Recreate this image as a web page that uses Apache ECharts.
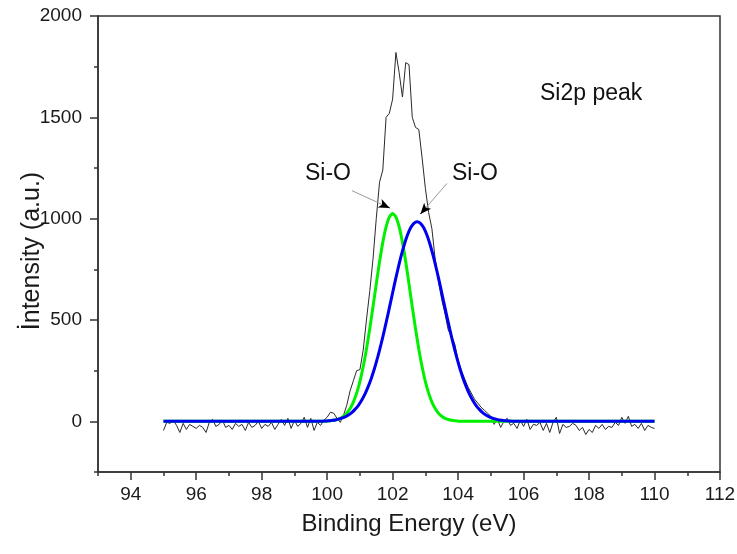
<!DOCTYPE html>
<html>
<head>
<meta charset="utf-8">
<script src="https://cdn.jsdelivr.net/npm/echarts@6.0.0/dist/echarts.min.js"></script>
<style>
  html, body { margin: 0; padding: 0; background: #fff; }
  #chart { width: 737px; height: 554px; }
</style>
</head>
<body>
<div id="chart"></div>
<script>
// ---- data ----
// raw spectrum: energies 95.0 .. 110.0 eV, step 0.1
var rawStart = 95.0;
var rawStep = 0.1;
var rawIntensity = [
  -45, -5, -10, 5, -20, -55, -10, -40, -15, -25,
  -35, -20, -30, -55, -5, 10, -25, -15, 5, -30,
  -20, -40, -10, -25, -15, -45, -5, -30, -20, 0,
  -35, -15, -25, -5, -40, -15, 10, -20, 15, -35,
  5, -25, -10, 20, -30, 15, -45, -5, -20, 5,
  20, 45, 40, 15, -5, 30, 80, 150, 200, 250,
  255, 350, 500, 640, 800, 1000, 1180, 1240, 1500, 1520,
  1590, 1820, 1720, 1600, 1770, 1760, 1500, 1450, 1440, 1300,
  1150, 1030, 950, 800, 690, 600, 530, 450, 420, 380,
  300, 250, 210, 170, 140, 110, 90, 70, 55, 40,
  25,
  -15, 10, -30, 0, 15, -20, -10, -35, 5, -25,
  10, -40, -15, -20, -5, -45, -10, -55, -5, 20,
  -60, -15, -30, -25, -10, -20, -45, -30, -65, -40,
  -55, -20, -35, -15, -40, -25, -30, -5, -20, 20,
  -10, 25, -25, -15, -35, -10, -45, -20, -30, -35
];

// fitted component (green), energies 100.0 .. 104.0 eV, step 0.1
var greenStart = 100.0;
var greenStep = 0.1;
var greenIntensity = [
  1, 3, 5, 9, 15, 25, 40, 63, 95, 139,
  196, 269, 356, 456, 565, 678, 787, 883, 959, 1008,
  1025,
  1008, 959, 883, 787, 678, 565, 456, 356, 269,
  196, 139, 95, 63, 40, 25, 15, 9, 5, 3, 1
];

// fitted component (blue), energies 99.75 .. 105.75 eV, step 0.1
var blueStart = 99.75;
var blueStep = 0.1;
var blueIntensity = [
  1, 1, 2, 3, 5, 7, 11, 16, 22, 31,
  43, 59, 78, 103, 133, 170, 213, 263, 320, 383,
  451, 523, 597, 672, 743, 810, 869, 918, 955, 977,
  985,
  977, 955, 918, 869, 810, 743, 672, 597, 523, 451,
  383, 320, 263, 213, 170, 133, 103, 78, 59, 43,
  31, 22, 16, 11, 7, 5, 3, 2, 1, 1
];

// baseline range of the fits
var fitRange = [95, 110];

// tick labels
var xTicks = [94, 96, 98, 100, 102, 104, 106, 108, 110, 112];
var yTicks = [0, 500, 1000, 1500, 2000];

// annotations (data coords): [start, tip]
var arrowLeft = [[100.76, 1138], [101.91, 1053]];
var arrowRight = [[103.66, 1174], [102.85, 1023]];
var annotationLabels = ['Si-O', 'Si-O', 'Si2p peak'];

// ---- build ----
function grid(start, step, vals) {
  return vals.map(function (v, i) { return [+(start + i * step).toFixed(3), v]; });
}
var rawData = grid(rawStart, rawStep, rawIntensity);
var greenData = [[fitRange[0], 0]].concat(grid(greenStart, greenStep, greenIntensity), [[fitRange[1], 0]]);
var blueData = [[fitRange[0], 0]].concat(grid(blueStart, blueStep, blueIntensity), [[fitRange[1], 0]]);

function nearTip(a) {
  var s = a[0], t = a[1], f = 0.12;
  return [t[0] + (s[0] - t[0]) * f, t[1] + (s[1] - t[1]) * f];
}
function arrowMarks(a) {
  return {
    silent: true,
    animation: false,
    label: { show: false },
    emphasis: { disabled: true },
    symbol: ['none', 'arrow'],
    symbolSize: [7, 11],
    data: [
      [{ coord: a[0], symbol: 'none', lineStyle: { color: '#9a9a9a', width: 1, type: 'solid' } },
       { coord: a[1], symbol: 'none' }],
      [{ coord: nearTip(a), symbol: 'none', lineStyle: { color: '#000', width: 1, type: 'solid' } },
       { coord: a[1], symbol: 'arrow' }]
    ]
  };
}

var FONT = 'Liberation Sans, Arial, sans-serif';
var axisColor = '#333';
var plain = function (v) { return String(v); };

var chart = echarts.init(document.getElementById('chart'), null, { renderer: 'canvas' });
chart.setOption({
  animation: false,
  backgroundColor: '#fff',
  grid: {
    left: 98, right: 17, top: 16, bottom: 82,
    show: true, borderColor: axisColor, borderWidth: 1.5, containLabel: false,
    outerBoundsMode: 'none'
  },
  xAxis: [
    {
      type: 'value', min: 93, max: 112, position: 'bottom',
      name: 'Binding Energy (eV)', nameLocation: 'middle', nameGap: 40, nameMoveOverlap: false,
      nameTextStyle: { fontSize: 24, color: '#1a1a1a', fontFamily: FONT },
      axisLine: { show: true, onZero: false, lineStyle: { color: axisColor, width: 1.5 } },
      axisTick: { show: true, length: 8, customValues: xTicks, lineStyle: { color: axisColor, width: 1.5 } },
      axisLabel: { customValues: xTicks, formatter: plain, fontSize: 19, color: '#1a1a1a', margin: 13, fontFamily: FONT },
      splitLine: { show: false }
    },
    {
      type: 'value', min: 93, max: 112, interval: 1, position: 'bottom',
      axisLine: { show: false, onZero: false },
      axisTick: { show: true, length: 4, lineStyle: { color: axisColor, width: 1.5 } },
      axisLabel: { show: false },
      splitLine: { show: false }
    }
  ],
  yAxis: [
    {
      type: 'value', min: -250, max: 2000, position: 'left',
      name: 'İntensity (a.u.)', nameLocation: 'middle', nameGap: 53, nameRotate: 90, nameMoveOverlap: false,
      nameTextStyle: { fontSize: 25, color: '#1a1a1a', fontFamily: FONT, padding: [0, 14, 0, 0] },
      axisLine: { show: true, onZero: false, lineStyle: { color: axisColor, width: 1.5 } },
      axisTick: { show: true, length: 8, customValues: yTicks, lineStyle: { color: axisColor, width: 1.5 } },
      axisLabel: { customValues: yTicks, formatter: plain, fontSize: 19, color: '#1a1a1a', margin: 16, fontFamily: FONT },
      splitLine: { show: false }
    },
    {
      type: 'value', min: -250, max: 2000, interval: 250, position: 'left',
      axisLine: { show: false, onZero: false },
      axisTick: { show: true, length: 4, lineStyle: { color: axisColor, width: 1.5 } },
      axisLabel: { show: false },
      splitLine: { show: false }
    }
  ],
  series: [
    {
      name: 'raw', type: 'line', xAxisIndex: 0, yAxisIndex: 0,
      data: rawData, showSymbol: false, symbol: 'none',
      lineStyle: { color: '#2a2a2a', width: 1 }, z: 2
    },
    {
      name: 'green', type: 'line', xAxisIndex: 0, yAxisIndex: 0,
      data: greenData, showSymbol: false, symbol: 'none', smooth: 0.2,
      lineStyle: { color: '#00f000', width: 3 }, z: 3,
      markLine: arrowMarks(arrowLeft)
    },
    {
      name: 'blue', type: 'line', xAxisIndex: 0, yAxisIndex: 0,
      data: blueData, showSymbol: false, symbol: 'none', smooth: 0.2,
      lineStyle: { color: '#0000f0', width: 3 }, z: 4,
      markLine: arrowMarks(arrowRight)
    }
  ],
  graphic: [
    { type: 'text', left: 305, top: 162, style: { text: annotationLabels[0], font: '23px ' + FONT, fill: '#111' } },
    { type: 'text', left: 452, top: 162, style: { text: annotationLabels[1], font: '23px ' + FONT, fill: '#111' } },
    { type: 'text', left: 540, top: 82, style: { text: annotationLabels[2], font: '23px ' + FONT, fill: '#111' } }
  ]
});
</script>
</body>
</html>
